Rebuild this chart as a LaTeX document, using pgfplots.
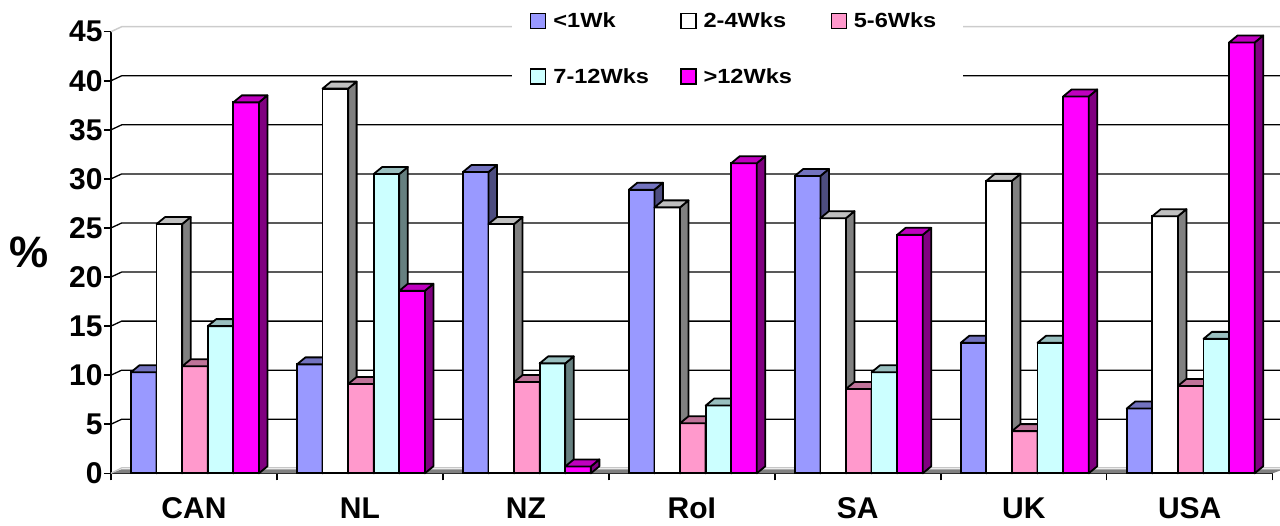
\documentclass[border=0pt]{standalone}
\usepackage{pgfplots}
\pgfplotsset{compat=1.18}
\usepackage{pgfplotstable}
\usepackage{fontspec}
\setmainfont{Liberation Sans}
\newfontfamily\legfont{Liberation Sans}[FakeStretch=1.15]

% front, top and side shades of each series
\definecolor{wkA}{HTML}{9999FF}\definecolor{wkAtop}{HTML}{7373BF}\definecolor{wkAside}{HTML}{4D4D80}
\definecolor{wkB}{HTML}{FFFFFF}\definecolor{wkBtop}{HTML}{C0C0C0}\definecolor{wkBside}{HTML}{808080}
\definecolor{wkC}{HTML}{FF99CC}\definecolor{wkCtop}{HTML}{BF7399}\definecolor{wkCside}{HTML}{804D66}
\definecolor{wkD}{HTML}{CCFFFF}\definecolor{wkDtop}{HTML}{99BFBF}\definecolor{wkDside}{HTML}{668080}
\definecolor{wkE}{HTML}{FF00FF}\definecolor{wkEtop}{HTML}{BF00BF}\definecolor{wkEside}{HTML}{800080}

% waiting time shares (%) by country
\pgfplotstableread{
idx country lt1  w2to4 w5to6 w7to12 gt12
0   CAN     10.3 25.4  10.9  15.0   37.8
1   NL      11.1 39.2  9.1   30.5   18.6
2   NZ      30.7 25.4  9.3   11.2   0.7
3   RoI     28.9 27.1  5.1   6.9    31.6
4   SA      30.3 26.0  8.6   10.3   24.3
5   UK      13.3 29.8  4.3   13.3   38.4
6   USA     6.6  26.2  8.9   13.7   43.9
}\waits

\newcommand\ddx{8.5pt}   % depth of the bars
\newcommand\ddy{7pt}

% top and right faces of a bar, drawn at the category position;
% #4/#5 are the left/right edges of the bar relative to it (axis units)
\newcommand\defcube[5]{%
  \pgfdeclareplotmark{#1}{%
    \begin{scope}[draw=black, line width=1.8pt, line join=round]
      \filldraw[fill=#3] (axis direction cs:#5,0) -- ++(\ddx,\ddy)
        -- ++(axis direction cs:0,-\barval) -- ++(-\ddx,-\ddy) -- cycle;
      \filldraw[fill=#2] (axis direction cs:#4,0) -- ++(\ddx,\ddy)
        -- ([shift={(\ddx,\ddy)}]axis direction cs:#5,0) -- (axis direction cs:#5,0) -- cycle;
    \end{scope}}}
\defcube{cubeA}{wkAtop}{wkAside}{-0.3795}{-0.2253}
\defcube{cubeB}{wkBtop}{wkBside}{-0.2253}{-0.0711}
\defcube{cubeC}{wkCtop}{wkCside}{-0.0711}{0.0831}
\defcube{cubeD}{wkDtop}{wkDside}{0.0831}{0.2373}
\defcube{cubeE}{wkEtop}{wkEside}{0.2373}{0.3915}

\pgfplotsset{
  frontbar/.style={ybar, bar width=0.1542, draw=black, line width=1.8pt,
    legend image code/.code={\draw[##1, line width=1.2pt] (0pt,-7.5pt) rectangle (15pt,7.5pt);}},
  cubepart/.style={forget plot, only marks, scatter,
    visualization depends on={rawy \as \barval},
    scatter/@pre marker code/.code={}, scatter/@post marker code/.code={}},
}
\newcommand\legtext[1]{\makebox[94pt][l]{\hspace{5pt}#1}}

\begin{document}
\begin{tikzpicture}
\useasboundingbox (0,0) rectangle (1280pt,525pt);
\begin{axis}[
  at={(111pt,51.7pt)}, anchor=south west,
  scale only axis, width=1161.7pt, height=441.6pt,
  xmin=-0.5, xmax=6.5, ymin=0, ymax=45,
  enlargelimits=false, clip=false, clip marker paths=true,
  axis x line*=bottom, axis y line*=left,
  axis line style={line width=1.5pt, -},
  tick align=outside, major tick length=7pt,
  tick style={line width=1.5pt, black},
  ytick={0,5,...,45},
  xtick={-0.5,0.5,...,6.5}, xticklabels={},
  extra x ticks={0,1,2,3,4,5,6},
  extra x tick labels={CAN,NL,NZ,RoI,SA,UK,USA},
  extra x tick style={major tick length=0pt},
  /pgf/number format/assume math mode=true,
  tick label style={font=\fontsize{30}{36}\selectfont\bfseries},
  xticklabel style={yshift=-21pt},
  yticklabel style={xshift=2pt},
  ylabel={\%},
  every axis y label/.style={at={(axis description cs:-0.0706,0.501)}, anchor=center,
    font=\fontsize{44}{50}\selectfont\bfseries},
  legend columns=3, legend cell align=left,
  legend style={draw=none, fill=white, inner xsep=18pt, inner ysep=5pt,
    at={(0.34518,1.0589)}, anchor=north west, row sep=35pt,
    /tikz/every even column/.append style={column sep=36pt},
    font=\legfont\fontsize{20.5}{24}\selectfont\bfseries},
]

% floor of the box
\fill[gray] (axis cs:-0.5,0) -- (axis cs:6.5,0) -- ++(10.7pt,4pt)
  -- ([xshift=10.7pt,yshift=4pt]axis cs:-0.5,0) -- cycle;
\draw[gray!45, line width=1.2pt] (axis cs:-0.5,0) -- ++(10.7pt,5.5pt)
  -- ([xshift=10.7pt,yshift=5.5pt]axis cs:6.5,0);
% grid on the back wall
\pgfplotsinvokeforeach{5,10,15,20,25,30,35,40}{
  \draw[black, line width=1.3pt] (axis cs:-0.5,#1) -- ++(10.7pt,5pt)
    -- ([xshift=10.7pt,yshift=5pt]axis cs:6.5,#1);
}
\draw[gray!40, line width=1.5pt] (axis cs:-0.5,45) -- ++(10.7pt,5pt)
  -- ([xshift=10.7pt,yshift=5pt]axis cs:6.5,45);

\addplot[frontbar, fill=wkA, bar shift=-0.3024] table[x=idx,y=lt1]{\waits};
\addlegendentry{\legtext{<1Wk}}
\addplot[cubepart, mark=cubeA] table[x=idx,y=lt1]{\waits};

\addplot[frontbar, fill=wkB, bar shift=-0.1482] table[x=idx,y=w2to4]{\waits};
\addlegendentry{\legtext{2-4Wks}}
\addplot[cubepart, mark=cubeB] table[x=idx,y=w2to4]{\waits};

\addplot[frontbar, fill=wkC, bar shift=0.0060] table[x=idx,y=w5to6]{\waits};
\addlegendentry{\legtext{5-6Wks}}
\addplot[cubepart, mark=cubeC] table[x=idx,y=w5to6]{\waits};

\addplot[frontbar, fill=wkD, bar shift=0.1602] table[x=idx,y=w7to12]{\waits};
\addlegendentry{\legtext{7-12Wks}}
\addplot[cubepart, mark=cubeD] table[x=idx,y=w7to12]{\waits};

\addplot[frontbar, fill=wkE, bar shift=0.3144] table[x=idx,y=gt12]{\waits};
\addlegendentry{\legtext{>12Wks}}
\addplot[cubepart, mark=cubeE] table[x=idx,y=gt12]{\waits};

\end{axis}
\end{tikzpicture}
\end{document}
